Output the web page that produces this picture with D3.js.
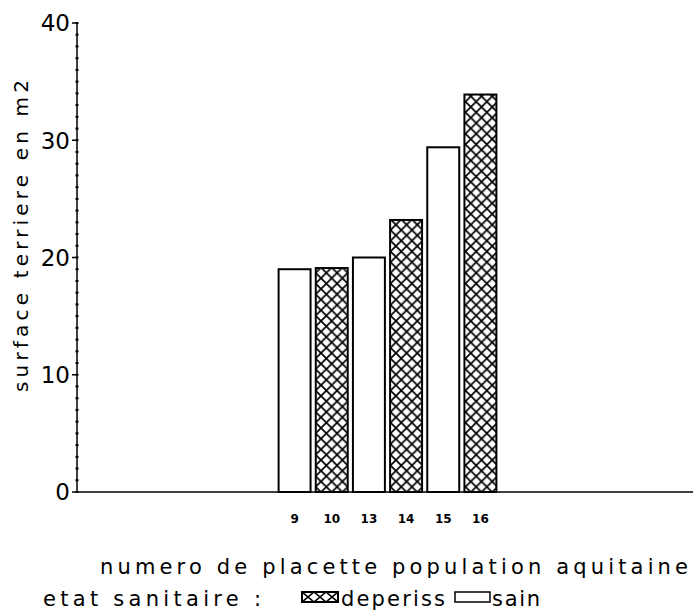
<!DOCTYPE html>
<html>
<head>
<meta charset="utf-8">
<script src="https://cdn.jsdelivr.net/npm/d3@7"></script>
<style>
  html, body { margin: 0; padding: 0; background: #fff; }
  svg { display: block; }
  text { font-family: "DejaVu Sans", sans-serif; fill: #000; }
</style>
</head>
<body>
<svg id="chart" width="693" height="614"></svg>
<script>
// ---- data ----
const categories = ["9", "10", "13", "14", "15", "16"];
const values = [19.0, 19.1, 20.0, 23.2, 29.4, 33.9];
const etat = ["sain", "deperiss", "sain", "deperiss", "sain", "deperiss"];
const yTicks = [0, 10, 20, 30, 40];
const yTitle = "surface terriere en m2";
const xTitle = "numero de placette population aquitaine";
const legendTitle = "etat sanitaire :";
const legendItems = ["deperiss", "sain"];

// ---- layout ----
const svg = d3.select("#chart");
const axisX = 77, axisY0 = 492, axisTop = 23, axisRight = 693;

const y = d3.scaleLinear().domain([0, 40]).range([axisY0, axisTop]);
const x = d3.scaleBand().domain(categories).range([276, 499])
  .paddingInner(0.14).paddingOuter(0.07);

// hatch pattern
const defs = svg.append("defs");
const pat = defs.append("pattern").attr("id", "hatch")
  .attr("patternUnits", "userSpaceOnUse").attr("width", 10.7).attr("height", 10.7)
  .attr("x", 0).attr("y", 0);
pat.append("rect").attr("width", 10.7).attr("height", 10.7).attr("fill", "#fff");
pat.append("path").attr("d", "M-1,-1 L11.7,11.7 M11.7,-1 L-1,11.7")
  .attr("stroke", "#000").attr("stroke-width", 1.7).attr("fill", "none");

const pat2 = defs.append("pattern").attr("id", "hatchSmall")
  .attr("patternUnits", "userSpaceOnUse").attr("width", 12).attr("height", 10)
  .attr("x", 302).attr("y", 592);
pat2.append("rect").attr("width", 12).attr("height", 10).attr("fill", "#fff");
pat2.append("path").attr("d", "M0,0 L12,10 M12,0 L0,10")
  .attr("stroke", "#000").attr("stroke-width", 1.6).attr("fill", "none");

// bars
svg.append("g").selectAll("rect").data(categories).join("rect")
  .attr("x", d => x(d))
  .attr("y", (d, i) => y(values[i]))
  .attr("width", x.bandwidth())
  .attr("height", (d, i) => y(0) - y(values[i]))
  .attr("fill", (d, i) => etat[i] === "deperiss" ? "url(#hatch)" : "#fff")
  .attr("stroke", "#000").attr("stroke-width", 2);

// y axis
const yAxisG = svg.append("g").attr("transform", `translate(${axisX},0)`);
yAxisG.append("line").attr("x1", 0).attr("x2", 0).attr("y1", axisTop).attr("y2", axisY0)
  .attr("stroke", "#000").attr("stroke-width", 1.5);
// minor ticks
yAxisG.selectAll(".minor").data(d3.range(0, 41, 1)).join("line")
  .attr("x1", -1.5).attr("x2", 1.5)
  .attr("y1", d => y(d)).attr("y2", d => y(d))
  .attr("stroke", "#000").attr("stroke-width", 2);
// major ticks
yAxisG.selectAll(".major").data(yTicks).join("line")
  .attr("x1", -5).attr("x2", 0)
  .attr("y1", d => y(d)).attr("y2", d => y(d))
  .attr("stroke", "#000").attr("stroke-width", 1.5);
yAxisG.selectAll(".lab").data(yTicks).join("text")
  .attr("x", -7).attr("y", d => y(d))
  .attr("dy", "0.36em")
  .attr("text-anchor", "end")
  .attr("font-size", 23)
  .text(d => d);

// x axis line
svg.append("line").attr("x1", axisX).attr("x2", axisRight).attr("y1", axisY0).attr("y2", axisY0)
  .attr("stroke", "#000").attr("stroke-width", 1.5);

// x tick labels
svg.append("g").selectAll("text").data(categories).join("text")
  .attr("x", d => x(d) + x.bandwidth() / 2)
  .attr("y", 523)
  .attr("text-anchor", "middle")
  .attr("font-size", 12)
  .attr("font-weight", "bold")
  .text(d => d);

// y title
svg.append("text")
  .attr("transform", "translate(28,236) rotate(-90)")
  .attr("text-anchor", "middle")
  .attr("font-size", 20)
  .attr("textLength", 312).attr("lengthAdjust", "spacing")
  .text(yTitle);

// x title
svg.append("text")
  .attr("x", 100).attr("y", 574)
  .attr("font-size", 21)
  .attr("textLength", 588).attr("lengthAdjust", "spacing")
  .text(xTitle);

// legend
svg.append("text")
  .attr("x", 43).attr("y", 606)
  .attr("font-size", 21)
  .attr("textLength", 218).attr("lengthAdjust", "spacing")
  .text(legendTitle);

svg.append("rect").attr("x", 302).attr("y", 592).attr("width", 36).attr("height", 10)
  .attr("fill", "url(#hatchSmall)").attr("stroke", "#000").attr("stroke-width", 2);
svg.append("text").attr("x", 341).attr("y", 606).attr("font-size", 21)
  .attr("textLength", 104).attr("lengthAdjust", "spacing")
  .text(legendItems[0]);

svg.append("rect").attr("x", 455).attr("y", 592).attr("width", 35).attr("height", 10)
  .attr("fill", "#fff").attr("stroke", "#000").attr("stroke-width", 1.5);
svg.append("text").attr("x", 492).attr("y", 606).attr("font-size", 21)
  .attr("textLength", 48).attr("lengthAdjust", "spacing")
  .text(legendItems[1]);
</script>
</body>
</html>
